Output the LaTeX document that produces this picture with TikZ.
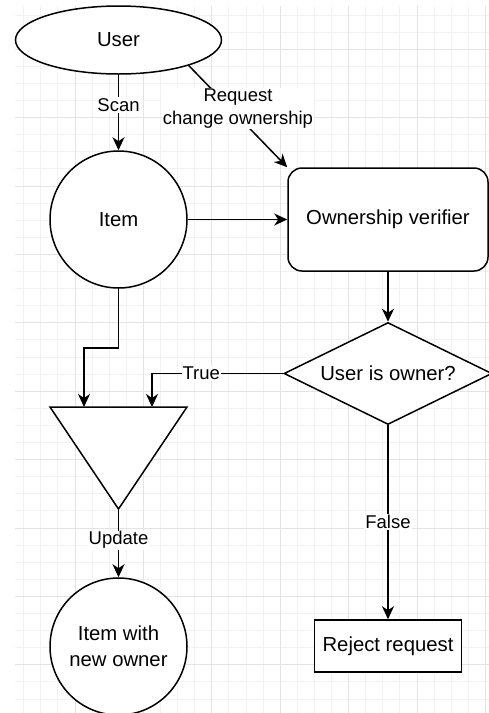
\documentclass[tikz,border=0pt]{standalone}
\usepackage{fontspec}
\setsansfont{Liberation Sans}
\usetikzlibrary{shapes,arrows.meta,positioning,calc}

\begin{document}
\begin{tikzpicture}[x=1pt, y=-1pt, font=\sffamily\fontsize{20.3}{26}\selectfont,
        >={Stealth[length=13pt,width=12pt,inset=4pt]},
        box/.style={draw, line width=1.5pt, fill=white, inner sep=0pt, align=center},
        flow/.style={->, line width=1.5pt},
        lbl/.style={fill=white, inner sep=1pt, align=center, font=\sffamily\fontsize{18.5}{23}\selectfont},
        minorgrid/.style={draw=black!5, line width=0.8pt},
        majorgrid/.style={draw=black!11, line width=0.8pt}]
        \useasboundingbox (0,0) rectangle (489,713);
        \clip (0,0) rectangle (489,713);

        % Background grid
        \foreach \k in {1,...,28}
            \draw[minorgrid] ({6.5+17.1*\k},6) -- ({6.5+17.1*\k},713);
        \foreach \k in {1,...,41}
            \draw[minorgrid] (15,{-2.2+17.1*\k}) -- (489,{-2.2+17.1*\k});
        \foreach \k in {1,...,7}
            \draw[majorgrid] ({6.5+68.4*\k},6) -- ({6.5+68.4*\k},713);
        \foreach \k in {0,...,9}
            \draw[majorgrid] (15,{49.1+68.4*\k}) -- (489,{49.1+68.4*\k});

        % Left column
        \node [box, ellipse, minimum width=206pt, minimum height=68pt] (user) at (118.5,40) {User};
        \node [box, circle, minimum size=137pt] (item) at (118.5,219.5) {Item};
        \coordinate (merge nw) at (50,407);
        \coordinate (merge ne) at (187,407);
        \coordinate (merge apex) at (118.5,509);
        \draw [line width=1.5pt, fill=white] (merge nw) -- (merge ne) -- (merge apex) -- cycle;
        \coordinate (scan in) at (84,407);
        \coordinate (true in) at (152,407);
        \node [box, circle, minimum size=137pt] (newitem) at (118.5,646.5) {Item with\\new owner};

        % Right column
        \node [box, rounded corners=14pt, minimum width=200pt, minimum height=103pt] (verifier) at (388,219.5) {Ownership verifier};
        \node [box, diamond, aspect=2, minimum width=208pt, minimum height=102pt] (owner) at (388,373.5) {User is owner?};
        \node [box, minimum width=147pt, minimum height=52pt] (reject) at (388,646) {Reject request};

        % Connectors
        \draw [flow] (user) -- node[lbl, pos=0.4] {Scan} (item);
        \draw [flow] (user.-20) -- node[lbl, pos=0.5, yshift=8pt] {Request\\change ownership} (verifier.north west);
        \draw [flow] (item) -- (verifier);
        \draw [flow] (verifier) -- (owner);
        \draw [flow] (item.south) -- ++(0,59) -| (scan in);
        \draw [flow] (owner.west) -| node[lbl, pos=0.3125] {True} (true in);
        \draw [flow] (owner.south) -- node[lbl] {False} (reject.north);
        \draw [flow] (merge apex) -- node[lbl, yshift=3pt] {Update} (newitem);
    \end{tikzpicture}
\end{document}
